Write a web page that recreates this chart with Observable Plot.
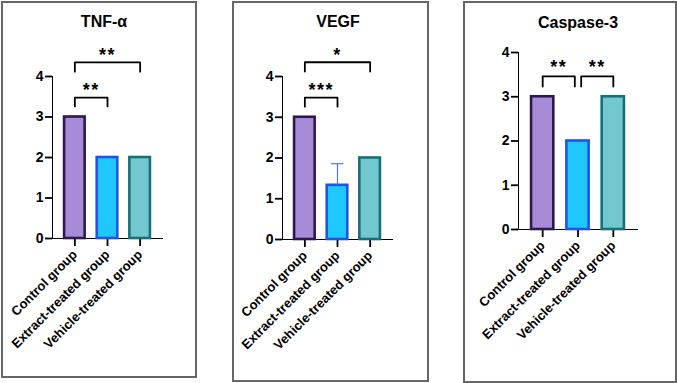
<!DOCTYPE html>
<html>
<head>
<meta charset="utf-8">
<script src="https://cdn.jsdelivr.net/npm/d3@7"></script>
<script src="https://cdn.jsdelivr.net/npm/@observablehq/plot@0.6"></script>
<style>
  html, body { margin: 0; padding: 0; background: #fff; }
  #root { position: relative; width: 677px; height: 383px; overflow: hidden; font-family: "Liberation Sans", Arial, sans-serif; }
  .box { position: absolute; border: 2px solid #666; box-sizing: border-box; }
  .title { position: absolute; font-weight: bold; font-size: 16px; line-height: 16px; transform: translateX(-50%); white-space: nowrap; color: #000; }
  .plot { position: absolute; }
  .plot svg { overflow: visible; }
  .plot [aria-label="x-axis tick label"] text, .plot [aria-label="x-axis tick label"] { font-size: 13px; font-weight: bold; }
  .plot [aria-label="y-axis tick label"] text, .plot [aria-label="y-axis tick label"] { font-size: 14px; font-weight: bold; }
  .plot [aria-label^="x-axis"] path, .plot [aria-label^="y-axis"] path, .plot [aria-label^="x-axis"] line, .plot [aria-label^="y-axis"] line { stroke-width: 1.8px; }
  .plot [aria-label="x-axis tick"], .plot [aria-label="y-axis tick"] { stroke-width: 1.8px; }
  .plot .stars { letter-spacing: 1.5px; }
</style>
</head>
<body>
<div id="root"></div>
<script>
// ---- Data ----
const groups = ["Control group", "Extract-treated group", "Vehicle-treated group"];
const fills = ["#a78bd6", "#1ec8fc", "#72c8ce"];
const strokes = ["#2c1a4e", "#1f55e6", "#177079"];
const yTicks = [0, 1, 2, 3, 4];

const tnfValues = [3, 2, 2];
const vegfValues = [3, 1.33, 2];
const vegfErrorUpper = [null, 1.86, null];
const caspaseValues = [3, 2, 3];

// significance comparisons: [from group index, to group index, label]
const tnfSig = [[0, 2, "**"], [0, 1, "**"]];
const vegfSig = [[0, 2, "*"], [0, 1, "***"]];
const caspaseSig = [[0, 1, "**"], [1, 2, "**"]];

// ---- Layout (page pixels) ----
const HALF = 0.315; // half bar width in category units
const PAD = 0.685;  // outer padding in category units
const panels = [
  {title: "TNF-α", values: tnfValues, err: null, sig: tnfSig,
   box: {left: 1, top: 1, width: 196, height: 377}, axisX: 52, xEnd: 162, yTop: 76, yZero: 238, titleX: 104, titleTop: 14,
   levels: [[4.12, 4.35, 4.62], [3.26, 3.48, 3.75]], gap: 0},
  {title: "VEGF", values: vegfValues, err: vegfErrorUpper, sig: vegfSig,
   box: {left: 232, top: 1, width: 197, height: 381}, axisX: 282, xEnd: 392, yTop: 76, yZero: 239, titleX: 338, titleTop: 14,
   levels: [[4.12, 4.35, 4.62], [3.26, 3.48, 3.75]], gap: 0},
  {title: "Caspase-3", values: caspaseValues, err: null, sig: caspaseSig,
   box: {left: 463, top: 1, width: 214, height: 382}, axisX: 518, xEnd: 637, yTop: 52, yZero: 229, titleX: 578, titleTop: 15,
   levels: [[3.23, 3.46, 3.75], [3.23, 3.46, 3.75]], gap: 0.09}
];

const root = document.getElementById("root");

panels.forEach((p) => {
  const box = document.createElement("div");
  box.className = "box";
  Object.assign(box.style, {left: p.box.left + "px", top: p.box.top + "px", width: p.box.width + "px", height: p.box.height + "px"});
  root.appendChild(box);

  const W = p.box.width, H = p.box.height, L = p.box.left, T = p.box.top;
  const marginLeft = p.axisX - L;
  const marginTop = p.yTop - T;
  const marginBottom = H - (p.yZero - T);
  const marginRight = W - (p.xEnd - L);

  const rows = groups.map((g, i) => ({i, group: g, value: p.values[i], fill: fills[i], stroke: strokes[i], err: p.err ? p.err[i] : null}));

  const marks = [
    Plot.rectY(rows, {x1: d => d.i - HALF, x2: d => d.i + HALF, y: "value", fill: "fill", stroke: "stroke", strokeWidth: 2.6}),
  ];
  if (p.err) {
    const errRows = rows.filter(d => d.err != null);
    marks.push(Plot.ruleX(errRows, {x: "i", y1: "value", y2: "err", stroke: "#4a78e8", strokeWidth: 1.2}));
    marks.push(Plot.ruleY(errRows, {y: "err", x1: d => d.i - 0.19, x2: d => d.i + 0.19, stroke: "#4a78e8", strokeWidth: 1.2}));
  }
  // brackets: shrink towards each other when they share the middle bar
  p.sig.forEach(([a, b, lab], k) => {
    const [yl, yt, ys] = p.levels[k];
    const xa = a + (p.sig.some(([a2, b2], k2) => k2 !== k && b2 === a) ? p.gap : 0);
    const xb = b - (p.sig.some(([a2, b2], k2) => k2 !== k && a2 === b) ? p.gap : 0);
    const pts = [{x: xa, y: yl}, {x: xa, y: yt}, {x: xb, y: yt}, {x: xb, y: yl}];
    marks.push(Plot.line(pts, {x: "x", y: "y", stroke: "#000", strokeWidth: 1.8}));
    marks.push(Plot.text([{x: (xa + xb) / 2, y: ys, lab}], {x: "x", y: "y", text: "lab", fontSize: 18, fontWeight: "bold",
      fill: "#000", lineAnchor: "middle", dy: 4, className: "stars", fontFamily: "Liberation Sans, Arial, sans-serif"}));
  });

  const chart = Plot.plot({
    width: W, height: H,
    marginLeft, marginRight, marginTop, marginBottom,
    style: {fontFamily: "Liberation Sans, Arial, sans-serif", color: "#000", background: "transparent", overflow: "visible"},
    x: {type: "linear", domain: [-PAD, groups.length - 1 + PAD], ticks: groups.map((g, i) => i), tickFormat: i => groups[i],
        label: null, tickSize: 8, tickPadding: 6, tickRotate: -45, line: true},
    y: {domain: [0, 4], ticks: yTicks, tickFormat: d3.format("d"), tickSize: 7, tickPadding: 2, label: null, line: true},
    marks
  });
  const wrap = document.createElement("div");
  wrap.className = "plot";
  Object.assign(wrap.style, {left: L + "px", top: T + "px", width: W + "px", height: H + "px"});
  wrap.appendChild(chart);
  root.appendChild(wrap);

  const t = document.createElement("div");
  t.className = "title";
  t.textContent = p.title;
  Object.assign(t.style, {left: p.titleX + "px", top: p.titleTop + "px"});
  root.appendChild(t);
});
</script>
</body>
</html>
